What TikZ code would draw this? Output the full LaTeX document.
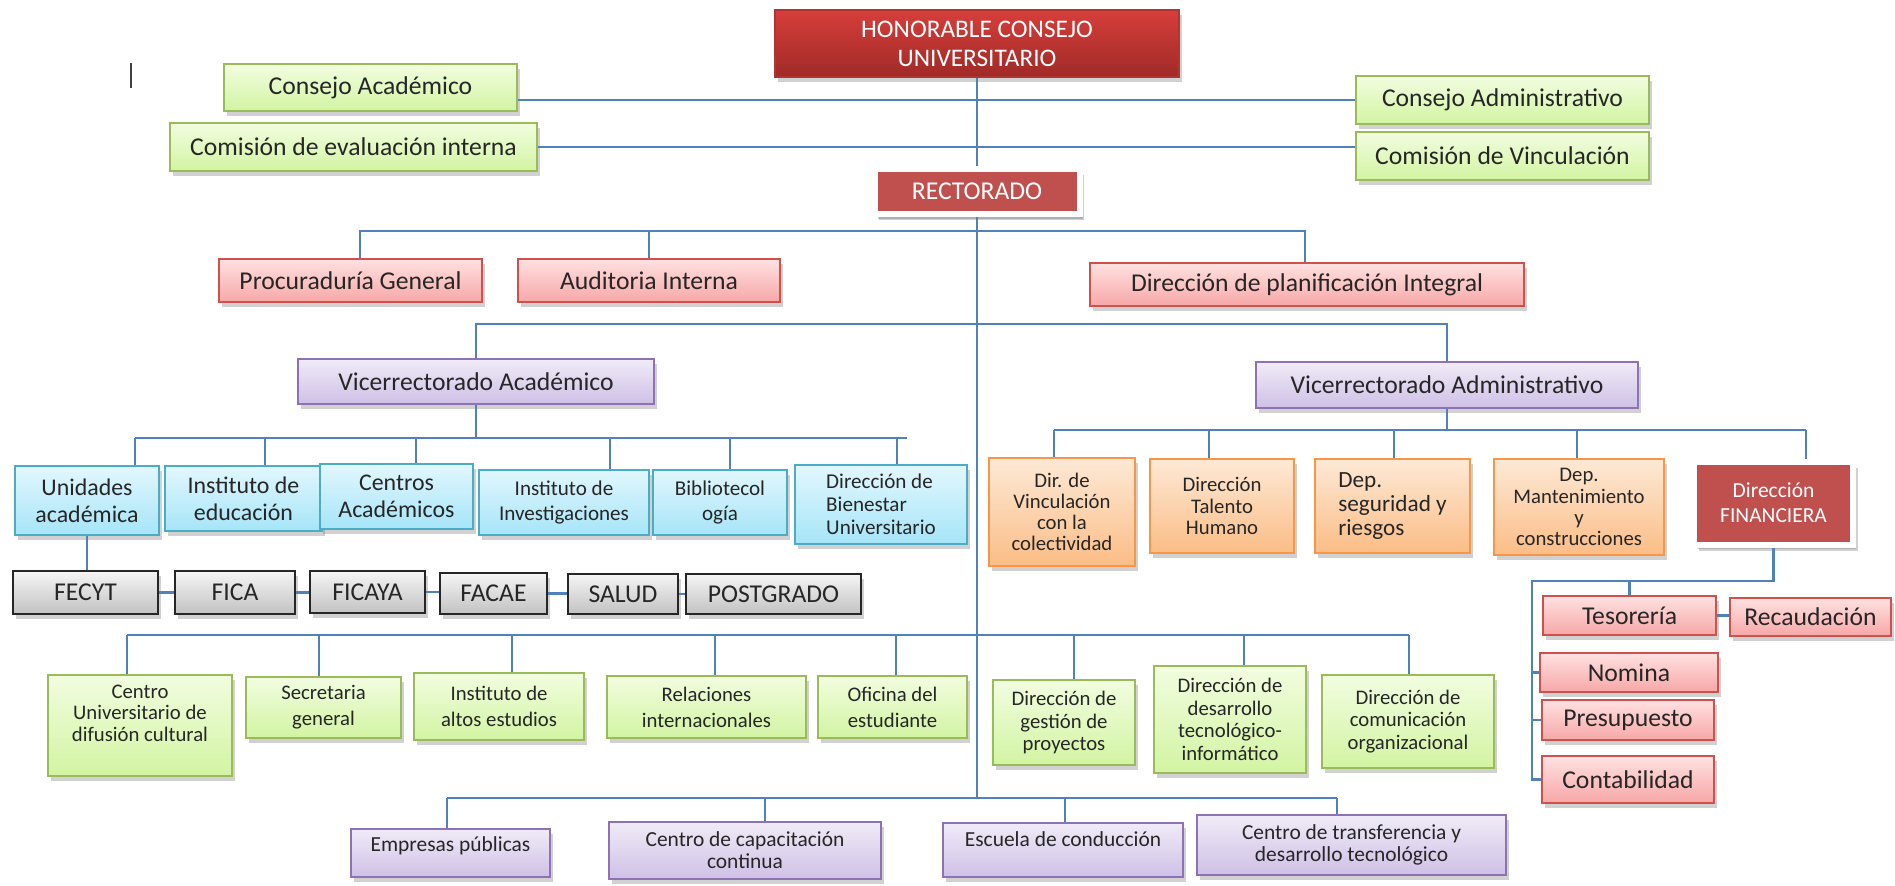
\documentclass[tikz,border=0pt]{standalone}
\usepackage{fontspec}
\setmainfont{Carlito}
\usepackage{tikz}
\usetikzlibrary{shadows}
\usepackage{xcolor}

\definecolor{linkblue}{HTML}{4F81BD}
\definecolor{grnline}{HTML}{9BBB59}
\definecolor{grntop}{HTML}{F2FDE0}
\definecolor{grnbot}{HTML}{D2F4A2}
\definecolor{cyaline}{HTML}{4BACC6}
\definecolor{cyatop}{HTML}{E2F7FD}
\definecolor{cyabot}{HTML}{A6E5F8}
\definecolor{orgline}{HTML}{F79646}
\definecolor{orgtop}{HTML}{FDE9D6}
\definecolor{orgbot}{HTML}{FBBD86}
\definecolor{purline}{HTML}{8E72B4}
\definecolor{purtop}{HTML}{F0EBF7}
\definecolor{purbot}{HTML}{CFC0E6}
\definecolor{pnkline}{HTML}{D0504D}
\definecolor{pnktop}{HTML}{FFE1E1}
\definecolor{pnkbot}{HTML}{F7A7A7}
\definecolor{gratop}{HTML}{F5F5F5}
\definecolor{grabot}{HTML}{C2C2C2}
\definecolor{redfill}{HTML}{C0504D}
\definecolor{hcutop}{HTML}{D63E3A}
\definecolor{hcubot}{HTML}{A02A27}
\definecolor{hculine}{HTML}{B03430}

\begin{document}
\begin{tikzpicture}[x=0.1mm, y=-0.1mm,
    link/.style={draw=linkblue, line width=0.6pt},
    boxsize/.style 2 args={minimum width=#1*0.1mm, minimum height=#2*0.1mm},
    orgbox/.style={draw, line width=0.6pt, inner sep=1pt, align=center, text=black!85,
        font=\fontsize{7.3}{8.3}\selectfont,
        drop shadow={shadow xshift=0.3mm, shadow yshift=-0.45mm, fill=black!60, opacity=0.3}},
    greenbox/.style={orgbox, draw=grnline, top color=grntop, bottom color=grnbot},
    cyanbox/.style={orgbox, draw=cyaline, top color=cyatop, bottom color=cyabot, font=\fontsize{6.8}{7.7}\selectfont},
    orangebox/.style={orgbox, draw=orgline, top color=orgtop, bottom color=orgbot, font=\fontsize{5.9}{6.0}\selectfont},
    purplebox/.style={orgbox, draw=purline, top color=purtop, bottom color=purbot},
    pinkbox/.style={orgbox, draw=pnkline, top color=pnktop, bottom color=pnkbot},
    graybox/.style={orgbox, draw=black!85, line width=0.8pt, top color=gratop, bottom color=grabot},
    redbox/.style={orgbox, draw=white, line width=0.6mm, fill=redfill, text=white,
        drop shadow={shadow xshift=0.45mm, shadow yshift=-0.6mm, fill=black!60, opacity=0.3}},
    darkredbox/.style={orgbox, draw=hculine, top color=hcutop, bottom color=hcubot, text=white},
    lowtxt/.style={font=\fontsize{5.9}{6.4}\selectfont},
    toptxt/.style={anchor=north, align=center, inner sep=0pt, text=black!85, font=\fontsize{5.9}{6.2}\selectfont}
]
    \useasboundingbox (0,0) rectangle (1895,885);

    % Council
    \node[darkredbox, boxsize={404}{67}, font=\fontsize{7.2}{8.3}\selectfont] (hcu) at (977,43.5) {HONORABLE CONSEJO\\UNIVERSITARIO};
    \node[greenbox, boxsize={293}{47}] (cacad) at (370.5,87.5) {Consejo Académico};
    \node[greenbox, boxsize={367}{48}] (ceval) at (353.5,147) {Comisión de evaluación interna};
    \node[greenbox, boxsize={293}{48}] (cadm) at (1502.5,100) {Consejo Administrativo};
    \node[greenbox, boxsize={293}{48}] (cvinc) at (1502.5,156) {Comisión de Vinculación};
    \node[redbox, boxsize={205}{45}] (rect) at (977,191.5) {RECTORADO};
    \draw[black!75, line width=0.5pt] (131,63) -- (131,88);

    % Rectorate staff
    \node[pinkbox, boxsize={263}{43}] (procu) at (350.5,280.5) {Procuraduría General};
    \node[pinkbox, boxsize={262}{43}] (audit) at (649,280.5) {Auditoria Interna};
    \node[pinkbox, boxsize={434}{43}] (plan) at (1307,284.5) {Dirección de planificación Integral};

    % Vice-rectorates
    \node[purplebox, boxsize={356}{45}] (vacad) at (476,381.5) {Vicerrectorado Académico};
    \node[purplebox, boxsize={382}{46}] (vadm) at (1447,385) {Vicerrectorado Administrativo};

    % Academic units
    \node[cyanbox, boxsize={144}{69}] (unid) at (87,500.5) {Unidades\\académica};
    \node[cyanbox, boxsize={157}{65}] (inedu) at (243.5,498.5) {Instituto de\\educación};
    \node[cyanbox, boxsize={153}{65}] (centr) at (396.5,496.5) {Centros\\Académicos};
    \node[cyanbox, boxsize={170}{65}, font=\fontsize{6}{7.2}\selectfont] (inves) at (564,502.5) {Instituto de\\Investigaciones};
    \node[cyanbox, boxsize={134}{65}, font=\fontsize{6}{7.2}\selectfont] (bibl) at (720,502.5) {Bibliotecol\\ogía};
    \node[cyanbox, boxsize={172}{79}, font=\fontsize{6}{6.6}\selectfont, align=left] (bien) at (881,504.5) {Dirección de\\Bienestar\\Universitario};

    % Faculties
    \node[graybox, boxsize={145}{43}] (fecyt) at (85.5,592.5) {FECYT};
    \node[graybox, boxsize={120}{43}] (fica) at (235,592.5) {FICA};
    \node[graybox, boxsize={115}{42}] (ficaya) at (367.5,592) {FICAYA};
    \node[graybox, boxsize={107}{41}] (facae) at (493.5,593.5) {FACAE};
    \node[graybox, boxsize={110}{40}] (salud) at (623,594) {SALUD};
    \node[graybox, boxsize={175}{40}] (postg) at (773.5,594) {POSTGRADO};

    % Administrative units
    \node[orangebox, boxsize={146}{108}] (dvinc) at (1062,512) {Dir. de\\Vinculación\\con la\\colectividad};
    \node[orangebox, boxsize={144}{94}] (dtal) at (1222,506) {Dirección\\Talento\\Humano};
    \node[orangebox, boxsize={155}{94}, align=left, font=\fontsize{6.6}{6.9}\selectfont] (dseg) at (1392.5,506) {Dep.\\seguridad y\\riesgos};
    \node[orangebox, boxsize={170}{96}] (dmant) at (1579,507) {Dep.\\Mantenimiento\\y\\construcciones};
    \node[redbox, boxsize={159}{83}, font=\fontsize{6.1}{7.2}\selectfont] (dfin) at (1773.5,503) {Dirección\\FINANCIERA};

    % Finance
    \node[pinkbox, boxsize={173}{39}] (teso) at (1629.5,615.5) {Tesorería};
    \node[pinkbox, boxsize={161}{38}] (recau) at (1810.5,617) {Recaudación};
    \node[pinkbox, boxsize={178}{39}] (nomina) at (1629,672.5) {Nomina};
    \node[pinkbox, boxsize={172}{40}] (presu) at (1628,720) {Presupuesto};
    \node[pinkbox, boxsize={172}{47}] (conta) at (1628,779.5) {Contabilidad};

    % Rectorate units
    \node[greenbox, boxsize={184}{101}, label={[toptxt, yshift=-1mm]north:{Centro\\Universitario de\\difusión cultural}}] (cudc) at (140,725.5) {};
    \node[greenbox, lowtxt, boxsize={155}{61}, font=\fontsize{5.9}{7.4}\selectfont] (secg) at (323.5,707.5) {Secretaria\\general};
    \node[greenbox, lowtxt, boxsize={170}{67}, font=\fontsize{5.9}{7.2}\selectfont] (iaes) at (499,706.5) {Instituto de\\altos estudios};
    \node[greenbox, lowtxt, boxsize={199}{62}, font=\fontsize{5.9}{7.4}\selectfont] (relin) at (706.5,707) {Relaciones\\internacionales};
    \node[greenbox, lowtxt, boxsize={149}{62}, font=\fontsize{5.9}{7.4}\selectfont] (ofest) at (892.5,707) {Oficina del\\estudiante};
    \node[greenbox, lowtxt, boxsize={142}{85}] (dgp) at (1064,722.5) {Dirección de\\gestión de\\proyectos};
    \node[greenbox, lowtxt, boxsize={152}{107}] (ddti) at (1230,719.5) {Dirección de\\desarrollo\\tecnológico-\\informático};
    \node[greenbox, lowtxt, boxsize={172}{93}] (dco) at (1408,721.5) {Dirección de\\comunicación\\organizacional};

    % Enterprises and centres
    \node[purplebox, boxsize={199}{48}, label={[toptxt, yshift=-0.8mm, font=\fontsize{6.1}{6.3}\selectfont]north:Empresas públicas}] (emp) at (450.5,853) {};
    \node[purplebox, boxsize={272}{57}, font=\fontsize{6.1}{6.3}\selectfont] (ccc) at (745,850.5) {Centro de capacitación\\continua};
    \node[purplebox, boxsize={240}{54}, label={[toptxt, yshift=-0.9mm, font=\fontsize{6.1}{6.3}\selectfont]north:Escuela de conducción}] (escu) at (1063,850) {};
    \node[purplebox, boxsize={309}{60}, font=\fontsize{6.1}{6.3}\selectfont] (ctdt) at (1351.5,845) {Centro de transferencia y\\desarrollo tecnológico};

    % Main line
    \coordinate (trunkend) at (977,798);
    \draw[link] (hcu.south) -- (rect.north);
    \draw[link] (rect.south) -- (trunkend);
    \draw[link] (cadm.west -| cacad.east) -- (cadm.west);
    \draw[link] (ceval.east) -- (ceval.east -| cvinc.west);

    % Staff connectors
    \draw[link] (procu.north -| 360,0) -- (360,231) -- (1305,231) -- (plan.north -| 1305,0);
    \draw[link] (audit.north) -- (audit.north |- 0,231);
    \draw[link] (vacad.north) -- (vacad.north |- 0,324) -- (vadm.north |- 0,324) -- (vadm.north);

    % Academic connectors
    \draw[link] (vacad.south) -- (vacad.south |- 0,438);
    \draw[link] (135,438) -- (907,438);
    \foreach \n/\x in {unid/135, inedu/265, centr/416, inves/610, bibl/730, bien/897}
        \draw[link] (\x,438) -- (\n.north -| \x,0);
    \draw[link] (unid.south) -- (unid.south |- fecyt.north);
    \foreach \a/\b in {fecyt/fica, fica/ficaya, ficaya/facae, facae/salud, salud/postg}
        \draw[link] (\a.east) -- (\a.east -| \b.west);

    % Administrative connectors
    \draw[link] (vadm.south) -- (vadm.south |- 0,430);
    \draw[link] (1054,430) -- (1806,430);
    \foreach \n/\x in {dvinc/1054, dtal/1209, dseg/1394, dmant/1577, dfin/1806}
        \draw[link] (\x,430) -- (\n.north -| \x,0);
    \draw[link] (dfin.south) -- (dfin.south |- 0,581) -- (1532,581) |- (conta.west);
    \draw[link] (teso.north) -- (teso.north |- 0,581);
    \draw[link] (teso.east) -- (teso.east -| recau.west);
    \foreach \n in {nomina, presu}
        \draw[link] (\n.west) -- (\n.west -| 1532,0);

    % Lower connectors
    \draw[link] (127,635) -- (1409,635);
    \foreach \n/\x in {cudc/127, secg/319, iaes/512, relin/715, ofest/896, dgp/1074, ddti/1244, dco/1409}
        \draw[link] (\x,635) -- (\n.north -| \x,0);
    \draw[link] (447,798) -- (1337,798);
    \foreach \n/\x in {emp/447, ccc/765, escu/1065, ctdt/1337}
        \draw[link] (\x,798) -- (\n.north -| \x,0);
\end{tikzpicture}
\end{document}
